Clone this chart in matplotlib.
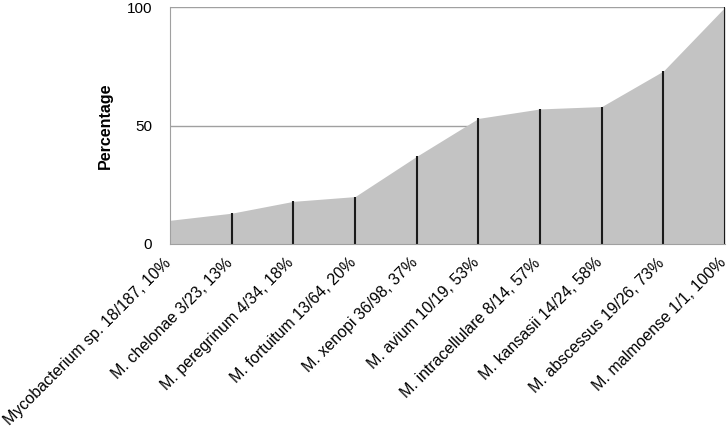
import matplotlib
matplotlib.use('Agg')
import matplotlib.pyplot as plt
from matplotlib.transforms import ScaledTranslation

plt.rcParams['font.family'] = ['Liberation Sans', 'DejaVu Sans']

# Data
species = ['Mycobacterium sp.', 'M. chelonae', 'M. peregrinum', 'M. fortuitum',
           'M. xenopi', 'M. avium', 'M. intracellulare', 'M. kansasii',
           'M. abscessus', 'M. malmoense']
counts = ['18/187', '3/23', '4/34', '13/64', '36/98', '10/19', '8/14',
          '14/24', '19/26', '1/1']
percent = [10, 13, 18, 20, 37, 53, 57, 58, 73, 100]

labels = [f'{s} {c}, {p}%' for s, c, p in zip(species, counts, percent)]
xs = list(range(len(percent)))

fig = plt.figure(figsize=(7.28, 4.33), dpi=100)
ax = fig.add_axes([0.2335, 0.4365, 0.7625, 0.5473])

fillcolour = "#c3c3c3"
linecolour = "#a0a0a0"

ax.fill_between(xs, 0, percent, color=fillcolour, linewidth=0, zorder=1)
ax.vlines(xs[1:], 0, percent[1:], color='#1a1a1a', linewidth=1.5, zorder=2)

# grid lines at 50 and 100
for y in [50, 100]:
    ax.axhline(y, color=linecolour, linewidth=1, zorder=0)

ax.set_xlim(0, len(percent) - 1)
ax.set_ylim(0, 100)
ax.set_yticks([0, 50, 100])
ax.set_xticks(xs)
ax.set_xticklabels(labels, rotation=45, ha='right', rotation_mode='anchor',
                   fontsize=11.5)
ax.tick_params(axis='y', length=0, pad=13, labelsize=11)
ax.tick_params(axis='x', length=0, pad=8)

# nudge the rotated labels a little to the left
shift = ScaledTranslation(-7 / 100, 0, fig.dpi_scale_trans)
for lab in ax.get_xticklabels():
    lab.set_transform(lab.get_transform() + shift)

for side in ['top', 'right']:
    ax.spines[side].set_visible(False)
ax.spines['left'].set_color(linecolour)
ax.spines['bottom'].set_color(linecolour)

ax.set_ylabel('Percentage', fontsize=11.5, fontweight='bold', labelpad=10)

fig.savefig('out.png', dpi=100)
